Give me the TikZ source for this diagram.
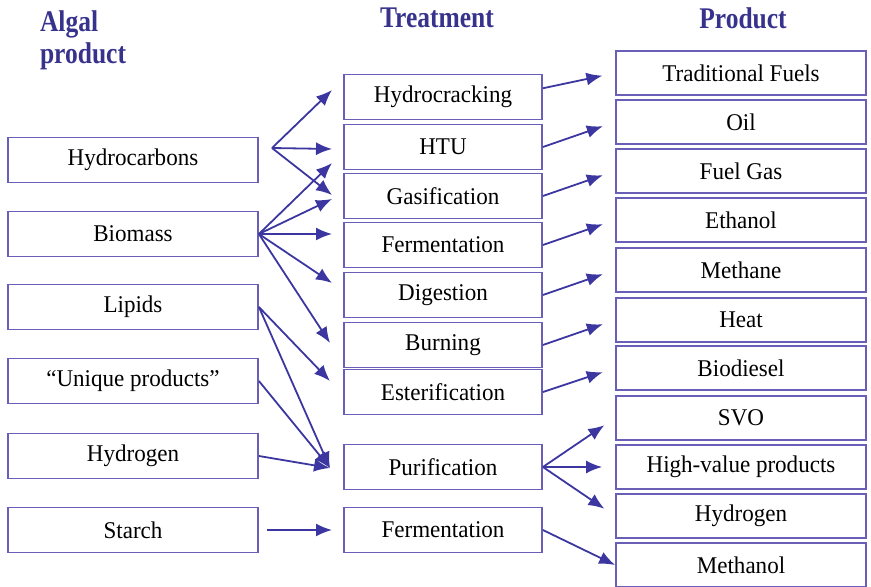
\documentclass[tikz,border=0pt]{standalone}
\usepackage{fontspec}
\setmainfont[FakeStretch=0.96]{Liberation Serif}
\newfontfamily\headfont[FakeStretch=0.85]{Liberation Serif}
\usetikzlibrary{arrows.meta,calc}

\definecolor{boxline}{RGB}{105,95,185}
\definecolor{arrowline}{RGB}{60,55,160}
\definecolor{headtext}{RGB}{55,50,140}

\tikzset{
  box/.style={draw=boxline, line width=0.9pt, minimum height=22.5pt, inner sep=0pt,
    font=\fontsize{12}{14}\selectfont},
  algbox/.style={box, minimum width=125pt},
  trbox/.style={box, minimum width=99pt},
  prbox/.style={box, minimum width=125pt, minimum height=22pt},
  arr/.style={arrowline, line width=0.9pt, -{Latex[length=8pt,width=6.5pt]}},
  head/.style={text=headtext, font=\headfont\bfseries\fontsize{15}{16}\selectfont},
}

\begin{document}
\begin{tikzpicture}[x=0.5pt,y=-0.5pt]
\useasboundingbox (0,0) rectangle (871,587);

% column heads
\node[head, anchor=north west, align=left] (hAlg) at (33,4) {Algal\\product};
\node[head] (hTr) at (437,18) {Treatment};
\node[head] (hPr) at (743,18) {Product};

% algal products
\node[algbox] (alHC) at (133,160) {Hydrocarbons};
\node[algbox] (alBM) at (133,234) {Biomass};
\node[algbox] (alLP) at (133,307) {Lipids};
\node[algbox] (alUP) at (133,381) {“Unique products”};
\node[algbox] (alHY) at (133,456) {Hydrogen};
\node[algbox] (alST) at (133,530) {Starch};

% treatments
\node[trbox] (trHC)  at (443,97)  {Hydrocracking};
\node[trbox] (trHTU) at (443,147) {HTU};
\node[trbox] (trGA)  at (443,196) {Gasification};
\node[trbox] (trFE)  at (443,245) {Fermentation};
\node[trbox] (trDI)  at (443,295) {Digestion};
\node[trbox] (trBU)  at (443,345) {Burning};
\node[trbox] (trES)  at (443,392) {Esterification};
\node[trbox] (trPU)  at (443,467) {Purification};
\node[trbox] (trFE2) at (443,530) {Fermentation};

% products
\node[prbox] (prTF)  at (741,73)  {Traditional Fuels};
\node[prbox] (prOI)  at (741,122) {Oil};
\node[prbox] (prFG)  at (741,171) {Fuel Gas};
\node[prbox] (prET)  at (741,220) {Ethanol};
\node[prbox] (prME)  at (741,270) {Methane};
\node[prbox] (prHE)  at (741,320) {Heat};
\node[prbox] (prBD)  at (741,368) {Biodiesel};
\node[prbox] (prSVO) at (741,418) {SVO};
\node[prbox] (prHV)  at (741,467) {High-value products};
\node[prbox] (prHY)  at (741,516) {Hydrogen};
\node[prbox] (prMO)  at (741,565) {Methanol};

% arrow tips in front of the treatments
\coordinate (fanHC) at (272,148);
\coordinate (tHC)   at (332,90);
\coordinate (tHTUa) at (332,149);
\coordinate (tHTUb) at (332,163);
\coordinate (tGAa)  at (332,195);
\coordinate (tGAb)  at (332,199);
\coordinate (tFE)   at (332,234);
\coordinate (tDI)   at (332,283);
\coordinate (tBU)   at (330,343);
\coordinate (tES)   at (330,381);
\coordinate (tPU)   at (330,468);
\coordinate (tFE2)  at (332,530);

\foreach \b in {tHC,tHTUa,tGAa} \draw[arr] (fanHC) -- (\b);
\foreach \b in {tHTUb,tGAb,tFE,tDI,tBU} \draw[arr] (alBM.east) -- (\b);
\foreach \b in {tES,tPU} \draw[arr] (alLP.east) -- (\b);
\draw[arr] (alUP.east) -- (tPU);
\draw[arr] (alHY.east) -- (tPU);
\draw[arr, shorten <=4pt] (alST.east) -- (tFE2);

% treatment -> product
\draw[arr, shorten >=6.5pt] (trHC.5) -- (prTF.west);
\foreach \a/\b in {trHTU/prOI,trGA/prFG,trFE/prET,trDI/prME,trBU/prHE,trES/prBD}
  \draw[arr, shorten >=6.5pt] (\a.east) -- (\b.west);
\foreach \b in {prSVO,prHV,prHY}
  \draw[arr, shorten >=6.5pt] (trPU.east) -- (\b.west);
\draw[arr] (trFE2.east) -- (prMO.west);

\end{tikzpicture}
\end{document}
